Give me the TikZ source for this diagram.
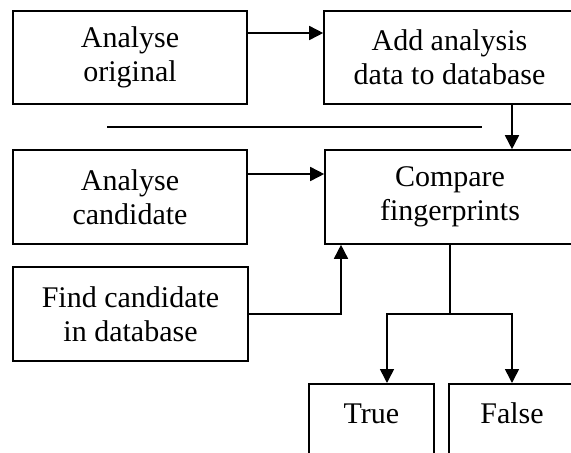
\documentclass[tikz,border=0pt]{standalone}
\usepackage{fontspec}
\setmainfont{Liberation Serif}
\usetikzlibrary{arrows.meta}

\begin{document}
\begin{tikzpicture}[x=1pt, y=-1pt, line width=1.6pt, >={Triangle[length=14pt,width=14pt]}]
\clip (0,0) rectangle (571,453);
\begin{scope}[every node/.style={draw, align=center, inner sep=0pt, font=\fontsize{30}{34}\selectfont}]
    \node[minimum width=234pt, minimum height=93pt] (orig) at (130,57.5){Analyse\\original};
    \node[minimum width=251pt, minimum height=93pt] (addb) at (449.5,57.5){Add analysis\\data to database};
    \node[minimum width=234pt, minimum height=94pt] (cand) at (130,197){Analyse\\candidate};
    \node[minimum width=250pt, minimum height=94pt] (comp) at (450,197){Compare\\fingerprints};
    \node[minimum width=235pt, minimum height=94pt] (find) at (130.5,314){Find candidate\\in database};
    \node[minimum width=125pt, text height=40pt, text depth=53pt, anchor=north] (true) at (371.5,383){True};
    \node[minimum width=126pt, text height=40pt, text depth=53pt, anchor=north] (false) at (512,383){False};
\end{scope}

    \coordinate (sepl) at (107,127);
    \coordinate (sepr) at (482,127);
    \coordinate (fork) at (450,314);

    \draw [->] ([yshift=24.5pt]orig.east) -- ([yshift=24.5pt]addb.west);
    \draw [->] ([xshift=62.5pt]addb.south) -- ([xshift=62pt]comp.north);
    \draw (sepl) -- (sepr);

    \draw [->] ([yshift=23pt]cand.east) -- ([yshift=23pt]comp.west);
    \draw [->] (find.east) -| ([xshift=-109pt]comp.south);

    \draw (comp.south) -- (fork);
    \draw [->] (fork) -| ([xshift=15.5pt]true.north);
    \draw [->] (fork) -| (false.north);

\end{tikzpicture}
\end{document}
